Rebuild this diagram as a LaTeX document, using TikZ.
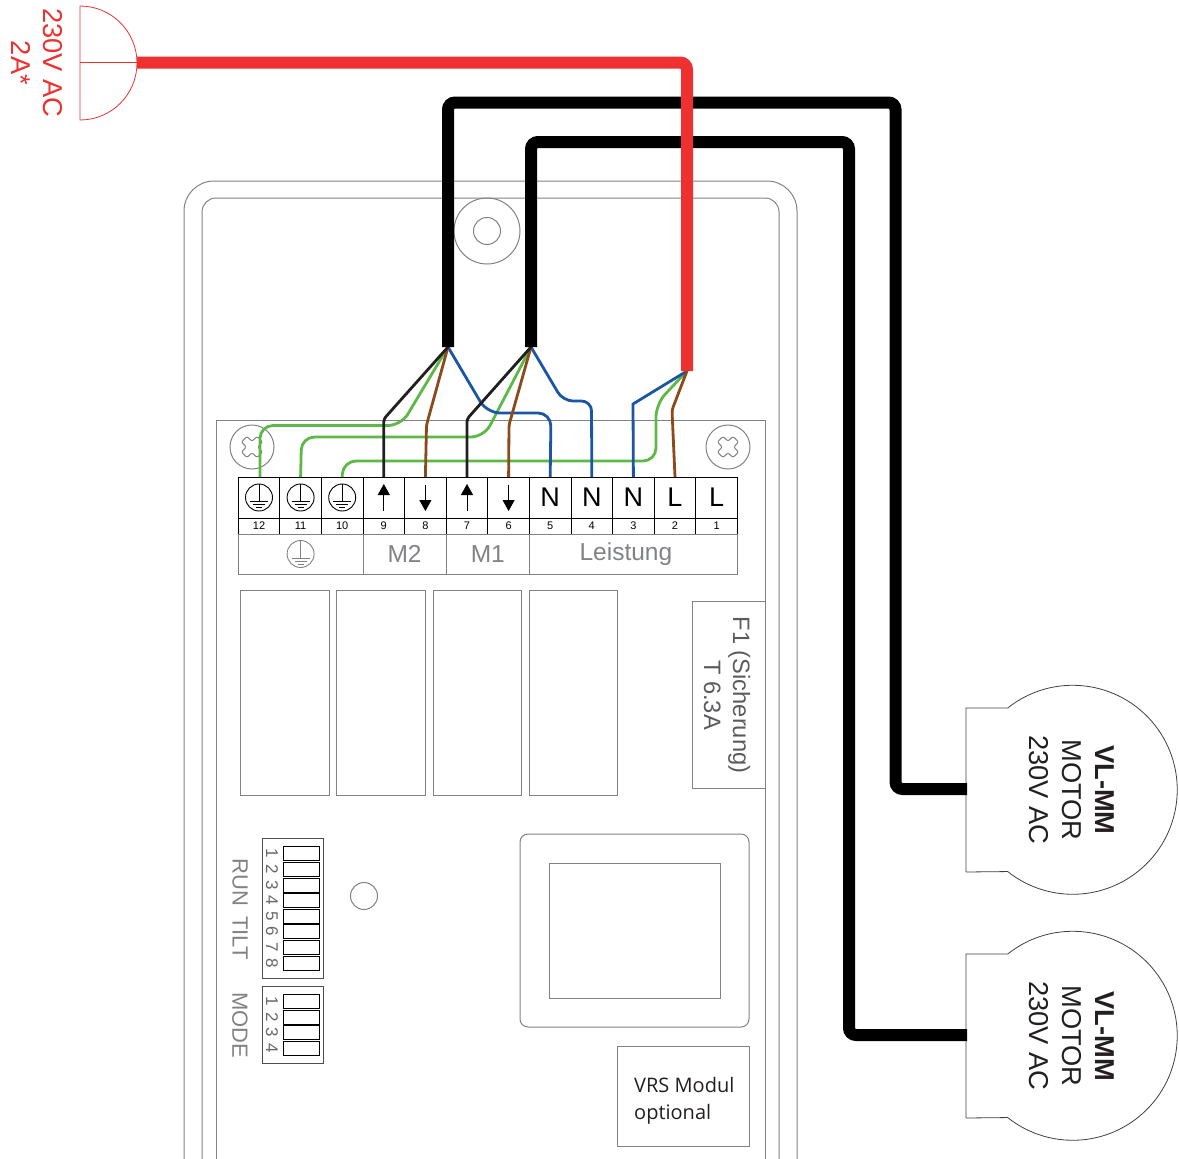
\documentclass[tikz,border=0pt]{standalone}
\usepackage{fontspec}
\setmainfont{Liberation Sans}
\newfontfamily\vrsfont{Open Sans}
\usetikzlibrary{arrows.meta, positioning}

\definecolor{redwire}{HTML}{EE3030}
\definecolor{greenwire}{HTML}{5DB947}
\definecolor{bluewire}{HTML}{1B56A5}
\definecolor{brownwire}{HTML}{8B4A1C}
\definecolor{blackwire}{HTML}{231F20}
\definecolor{labelgray}{HTML}{808285}
\definecolor{partgray}{HTML}{808285}

\tikzset{
  cell/.style={draw=black,line width=0.9pt,minimum width=41.6pt,minimum height=41pt,inner sep=0pt,outer sep=0pt,font=\fontsize{27}{27}\selectfont},
  numcell/.style={draw=black,line width=0.9pt,minimum width=41.6pt,minimum height=16pt,inner sep=0pt,outer sep=0pt,font=\fontsize{11}{11}\selectfont},
  groupcell/.style={draw=labelgray,line width=0.9pt,minimum height=40pt,inner sep=0pt,outer sep=0pt,text=labelgray,font=\fontsize{24.5}{24.5}\selectfont},
  part/.style={draw=partgray,line width=1pt},
  wire/.style={line width=2.8pt,rounded corners=13pt},
  cable/.style={line width=12pt,rounded corners=7pt},
  updown/.style={line width=0.8pt,-{Triangle[width=12pt,length=11pt]}},
  vert/.style={rotate=-90,inner sep=0pt,align=center},
  motortext/.style={vert,text=blackwire,font=\fontsize{27.3}{33}\selectfont},
  switchbox/.style={draw=black,line width=0.8pt,minimum width=36pt,minimum height=14pt,inner sep=0pt},
  switchnum/.style={vert,text=labelgray!80!black,font=\fontsize{17}{17}\selectfont},
  earth/.pic={
    \draw (0,0) circle (13.5);
    \draw (0,-13.5) -- (0,4);
    \draw (-9,4) -- (9,4);
    \draw (-6,7) -- (6,7);
    \draw (-3,10) -- (3,10);
  },
  screw/.pic={
    \draw[part,rounded corners=2pt,rotate=45] (-4,-4) -- (-4,-11) -- (4,-11) -- (4,-4) -- (11,-4) -- (11,4) -- (4,4) -- (4,11) -- (-4,11) -- (-4,4) -- (-11,4) -- (-11,-4) -- cycle;
    \draw[part] (0,0) circle (22);
  }
}

\begin{document}
\begin{tikzpicture}[x=1pt,y=-1pt]
  \useasboundingbox (0,0) rectangle (1179,1159);

  % housing
  \draw[part] (184,1159) -- (184,211) arc[start angle=180,end angle=90,radius=30pt] -- (767,181) arc[start angle=90,end angle=0,radius=30pt] -- (797,1159);
  \draw[part] (202,1159) -- (202,212) arc[start angle=180,end angle=90,radius=14pt] -- (765,198) arc[start angle=90,end angle=0,radius=14pt] -- (779,1159);
  \draw[part] (216,1159) -- (216,420.5) -- (765,420.5) -- (765,1159);
  \draw[part] (487,231) circle (33);
  \draw[part] (487,231) circle (13.5);
  \pic at (252,447) {screw};
  \pic at (728,447) {screw};

  % terminal block
  \node[cell] (t12) at (259,497.5) {};
  \node[numcell,below=0pt of t12] (n12) {12};
  \foreach \s/\t/\lab in {12/11/,11/10/,10/9/,9/8/,8/7/,7/6/,6/5/N,5/4/N,4/3/N,3/2/L,2/1/L} {
    \node[cell,right=0pt of t\s] (t\t) {\lab};
    \node[numcell,below=0pt of t\t] (n\t) {\t};
  }
  \foreach \t in {12,11,10}
    \pic[line width=0.9pt] at (t\t) {earth};
  \foreach \t in {9,7} {
    \coordinate (a\t) at ([yshift=-13pt]t\t.center);
    \coordinate (b\t) at ([yshift=13.5pt]t\t.center);
    \draw[updown] (a\t) -- (b\t);
  }
  \foreach \t in {8,6} {
    \coordinate (a\t) at ([yshift=13pt]t\t.center);
    \coordinate (b\t) at ([yshift=-13.5pt]t\t.center);
    \draw[updown] (a\t) -- (b\t);
  }

  \node[groupcell,minimum width=124.8pt,below right=0pt and 0pt of n12.south west] (gearth) {};
  \node[groupcell,minimum width=83.2pt,right=0pt of gearth] (gm2) {M2};
  \node[groupcell,minimum width=83.2pt,right=0pt of gm2] (gm1) {M1};
  \node[groupcell,minimum width=208pt,right=0pt of gm1] (gpower) {Leistung\kern15pt};
  \pic[draw=labelgray,labelgray,line width=0.9pt] at (gearth) {earth};

  % relays
  \foreach \x/\w in {240/89,336.5/89,433/88.5,529/88.5}
    \draw[part] (\x,590) rectangle (\x+\w,795);

  % fuse
  \draw[part] (765,601) -- (692,601) -- (692,788) -- (765,788);
  \node[vert,text=labelgray!70!black,font=\fontsize{23.7}{29}\selectfont] (fuse) at (727,695) {F1 (Sicherung)\\T 6.3A};

  % module
  \draw[part,rounded corners=8pt] (520,834) rectangle (749,1027);
  \draw[part] (549,863) rectangle (720,998);
  \draw[part] (617,1046) rectangle (749,1146);
  \node[anchor=west,align=left,inner sep=0pt,text=blackwire,font=\vrsfont\fontsize{20}{27}\selectfont] (vrs) at (634,1100.5) {VRS Modul\\optional};

  % switches
  \draw[part] (364,896) circle (13.5);
  \draw[draw=black!70,line width=0.9pt] (262,838) rectangle (323.5,978);
  \draw[draw=black!70,line width=0.9pt] (262,986) rectangle (323.5,1063);
  \foreach \n in {1,...,8} {
    \node[switchbox] (sw\n) at (301,853.7+15.6*\n-15.6) {};
    \node[switchnum] (swl\n) at ([xshift=-29pt]sw\n.center) {\n};
  }
  \foreach \n in {1,...,4} {
    \node[switchbox] (md\n) at (301,1001.3+15.6*\n-15.6) {};
    \node[switchnum] (mdl\n) at ([xshift=-29pt]md\n.center) {\n};
  }
  \node[vert,text=labelgray,font=\fontsize{22}{22}\selectfont] (runtilt) at (240,909) {RUN\hspace{4pt} TILT};
  \node[vert,text=labelgray,font=\fontsize{22}{22}\selectfont] (mode) at (240,1025) {MODE};

  % motors
  \foreach \y/\n in {0/A,246/B} {
    \draw[draw=black!75,line width=0.8pt] (966,872+\y) -- (966,708+\y) -- (1007.7,708+\y) arc[start angle=128.5,end angle=-128.5,radius=104.5pt] -- (966,872+\y);
    \coordinate (motor\n) at (967,789+\y);
    \node[motortext] (mtext\n) at (1072,790+\y) {\textbf{VL-MM}\\MOTOR\\230V AC};
  }

  % mains plug
  \draw[redwire,line width=0.8pt] (80,6) arc[start angle=90,end angle=-90,radius=57pt] -- cycle;
  \coordinate (plug) at (137,62.5);
  \draw[redwire,line width=0.8pt] (80,62.5) -- (plug);
  \node[vert,text=redwire,font=\fontsize{27.3}{32}\selectfont] (mains) at (37,63) {230V AC\\2A*};

  % cable ends
  \coordinate (cableA) at (448,347);
  \coordinate (cableB) at (531,347);
  \coordinate (feed) at (687,371);

  % thin wires
  \draw[wire,greenwire] (cableA) -- (401,425.5) -- (260,425.5) -- ([xshift=1pt]t12.north);
  \draw[wire,greenwire] (cableB) -- (484,437) -- (301.5,437) -- (t11.north);
  \draw[wire,greenwire] (feed) -- (656,404) -- (656,461) -- (343,461) -- (t10.north);
  \draw[wire,bluewire] (cableA) -- (487,413) -- (551,413) -- (t5.north);
  \draw[wire,bluewire,rounded corners=10pt] (cableB) -- (563,401) -- (591.5,401) -- (t4.north);
  \draw[wire,bluewire,rounded corners=0pt] (feed) -- (633,404) -- (t3.north);
  \foreach \s/\m/\t in {cableA/426.5/8,cableB/509/6,feed/672/2}
    \draw[wire,brownwire,rounded corners=3pt] (\s) -- (\m,\ifnum\t=2 410\else 425\fi) -- (t\t.north);
  \foreach \s/\t in {cableA/9,cableB/7}
    \draw[wire,blackwire,rounded corners=3pt] (\s) -- ([yshift=58pt]t\t.north) -- (t\t.north);

  % cables
  \draw[cable,black] (cableA) -- (448,102.5) -- (895.5,102.5) -- (895.5,789) -- (motorA);
  \draw[cable,black] (cableB) -- (531,142) -- (849,142) -- (849,1035) -- (motorB);
  \draw[cable,redwire] (plug) -- (687,62.5) -- (feed);

\end{tikzpicture}
\end{document}
